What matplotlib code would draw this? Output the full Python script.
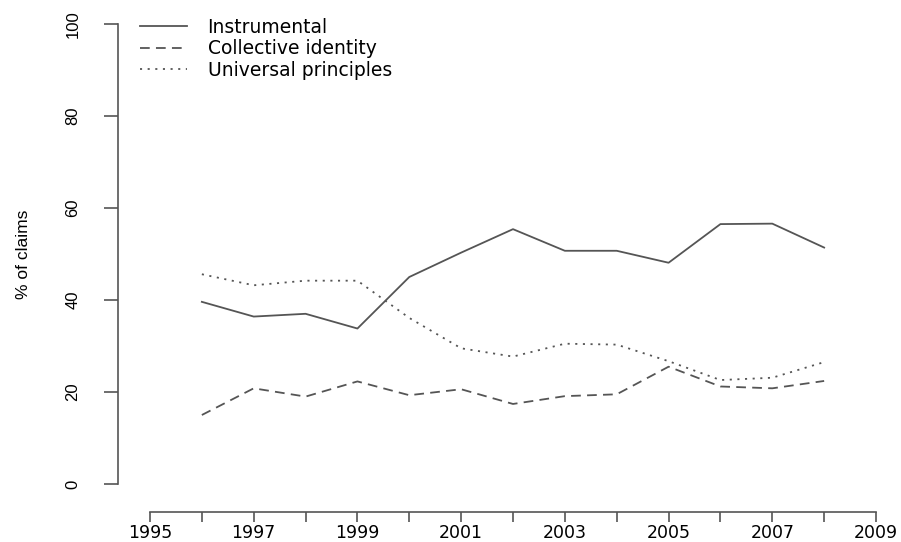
"""Claims by type over time"""
import matplotlib
matplotlib.use("Agg")
import matplotlib.pyplot as plt

# data
years = [1996, 1997, 1998, 1999, 2000, 2001, 2002, 2003, 2004, 2005, 2006, 2007, 2008]
instrumental = [39.6, 36.4, 37.0, 33.8, 45.0, 50.3, 55.4, 50.7, 50.7, 48.1, 56.5, 56.6, 51.4]
collective = [15.0, 20.8, 19.0, 22.3, 19.3, 20.6, 17.4, 19.1, 19.5, 25.5, 21.2, 20.8, 22.4]
universal = [45.6, 43.2, 44.2, 44.2, 36.1, 29.5, 27.7, 30.5, 30.3, 26.7, 22.6, 23.1, 26.5]
labels = ["Instrumental", "Collective identity", "Universal principles"]
xticks = list(range(1995, 2010))
xticklabels = [str(y) if y % 2 == 1 else "" for y in xticks]
yticks = [0, 20, 40, 60, 80, 100]

plt.rcParams["lines.scale_dashes"] = False
grey = "#555555"

fig = plt.figure(figsize=(9.01, 5.42), dpi=100)
ax = fig.add_axes([150 / 901, 58 / 542, 726 / 901, 460 / 542])

ax.plot(years, instrumental, color=grey, lw=1.3, label=labels[0])
ax.plot(years, collective, color=grey, lw=1.3, dashes=(7, 4.5), label=labels[1])
ax.plot(years, universal, color=grey, lw=1.3, dashes=(1.5, 4), label=labels[2])

ax.set_xlim(1995, 2009)
ax.set_ylim(0, 100)
for s in ["top", "right"]:
    ax.spines[s].set_visible(False)
ax.spines["left"].set_position(("outward", 23))
ax.spines["bottom"].set_position(("outward", 20))
for s in ["left", "bottom"]:
    ax.spines[s].set_color(grey)
    ax.spines[s].set_linewidth(1.2)

ax.set_xticks(xticks)
ax.set_xticklabels(xticklabels, fontsize=12.5, family="DejaVu Sans")
ax.set_yticks(yticks)
ax.set_yticklabels([str(v) for v in yticks], fontsize=12, family="Liberation Sans",
                   rotation=90, va="center")
ax.tick_params(axis="x", length=7.5, width=1.2, color=grey, pad=1)
ax.tick_params(axis="y", length=10, width=1.2, color=grey, pad=17)

ax.set_ylabel("% of claims", fontsize=12.5, family="Liberation Sans", labelpad=25)

ax.legend(loc="upper left", bbox_to_anchor=(140 / 901, 1 - 18 / 542),
          bbox_transform=fig.transFigure, frameon=False, borderpad=0,
          borderaxespad=0, handlelength=2.5, handletextpad=1.1,
          labelspacing=0.12, prop={"family": "DejaVu Sans", "size": 13.5})

fig.savefig("out.png", dpi=100)
